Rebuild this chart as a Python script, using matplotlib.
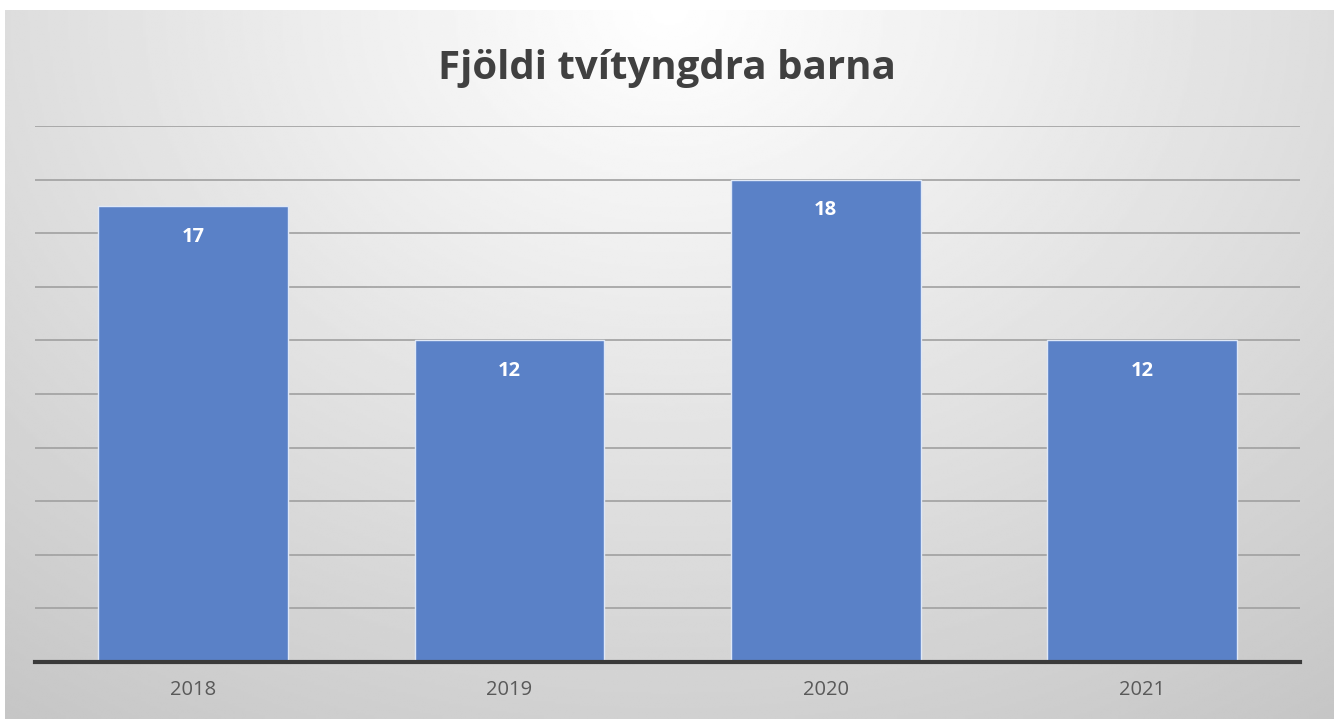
import matplotlib.pyplot as plt
import numpy as np

years = ['2018', '2019', '2020', '2021']
counts = [17, 12, 18, 12]

W, H = 1334, 719
fig = plt.figure(figsize=(W / 100, H / 100), dpi=100)
fig.patch.set_facecolor('white')

# radial gradient backdrop
bg = fig.add_axes([5 / W, 0, 1 - 5 / W, (H - 10) / H])
yy, xx = np.mgrid[0:1:300j, 0:1:600j]
r = np.sqrt(((xx - 0.5) / 0.75) ** 2 + ((yy - 1.0) / 1.1) ** 2)
shade = 1.0 - 0.2 * np.clip(r, 0, 1.2)
bg.imshow(shade, cmap='gray', vmin=0, vmax=1, origin='lower',
          aspect='auto', extent=[0, 1, 0, 1], interpolation='bilinear')
bg.axis('off')

ax = fig.add_axes([35 / W, (H - 662) / H, 1265 / W, 536 / H])
ax.set_facecolor('none')
x = np.arange(len(years))
bars = ax.bar(x, counts, width=0.6, color='#5a81c7', edgecolor='#dfe8f7',
              linewidth=1.0, zorder=3)
for b, v in zip(bars, counts):
    ax.text(b.get_x() + b.get_width() / 2, v - 1.15, str(v), ha='center',
            va='center', color='white', fontsize=14.5, fontweight='bold',
            family='Open Sans', zorder=4)

ax.set_xlim(-0.5, 3.5)
ax.set_ylim(0, 20)
ax.set_yticks(np.arange(2, 21, 2))
ax.yaxis.grid(True, color='#a0a0a0', linewidth=1.2, zorder=1)
ax.tick_params(axis='y', left=False, labelleft=False)
ax.tick_params(axis='x', length=0, pad=13, labelsize=14.5, labelcolor='#595959')
ax.set_xticks(x)
ax.set_xticklabels(years, family='Open Sans')
for s in ['top', 'right', 'left']:
    ax.spines[s].set_visible(False)
ax.spines['bottom'].set_color('#3a3a3a')
ax.spines['bottom'].set_linewidth(3)
ax.spines['bottom'].set_zorder(5)

fig.text(0.5, (H - 68) / H, 'Fjöldi tvítyngdra barna', ha='center',
         va='center', fontsize=29, fontweight='bold', color='#404040',
         family='Open Sans')

fig.savefig('out.png', dpi=100)
